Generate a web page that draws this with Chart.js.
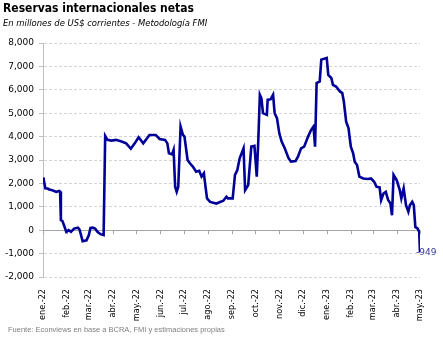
<!DOCTYPE html>
<html>
<head>
<meta charset="utf-8">
<script src="https://cdn.jsdelivr.net/npm/chart.js@4"></script>
<style>
  body { margin: 0; background: #fff; }
  #wrap { position: relative; width: 443px; height: 340px; overflow: hidden; }
  canvas { position: absolute; left: 0; top: 0; }
  .txt { position: absolute; white-space: nowrap; }
  #title { left: 3px; top: 1px; font: bold 12px "DejaVu Sans Condensed", "DejaVu Sans", sans-serif; color: #000; line-height: 14px; }
  #subtitle { left: 3px; top: 17px; font: italic 9.4px "DejaVu Sans Condensed", "DejaVu Sans", sans-serif; color: #000; line-height: 12px; }
  #source { left: 8px; top: 325px; font: 7.5px "Liberation Sans Narrow", "Liberation Sans", sans-serif; color: #7f7f7f; line-height: 10px; }
</style>
</head>
<body>
<div id="wrap">
  <canvas id="chart" width="443" height="340"></canvas>
  <div id="title" class="txt">Reservas internacionales netas</div>
  <div id="subtitle" class="txt">En millones de US$ corrientes - Metodología FMI</div>
  <div id="source" class="txt">Fuente: Econviews en base a BCRA, FMI y estimaciones propias</div>
</div>
<script>
// days since 1 Jan 2022
const days = [0, 1, 3, 6, 8, 12, 17, 21, 22, 23, 25, 27, 30, 33, 36, 40, 45, 47, 51, 56, 59, 61, 64, 67, 70, 74, 78,
    80, 83, 88, 94, 101, 107, 113, 118, 123, 129, 137, 145, 150, 157, 160, 162, 166, 168, 170, 172, 174, 177, 180, 182,
    186, 189, 193, 197, 201, 204, 207, 208, 211, 215, 223, 232, 236, 238, 244, 247, 250, 253, 258, 260, 264, 268, 272,
    275, 277, 279, 281, 283, 288, 289, 293, 296, 298, 301, 304, 307, 311, 316, 319, 325, 328, 332, 336, 341, 345, 348,
    350, 352, 356, 358, 365, 367, 371, 373, 377, 382, 385, 387, 390, 393, 396, 399, 401, 404, 407, 412, 418, 422, 426,
    429, 433, 435, 438, 441, 444, 447, 449, 451, 455, 459, 461, 464, 467, 470, 472, 475, 477, 479, 482, 484, 485];
// millones de US$
const reservas = [2250, 2150, 1790, 1780, 1740, 1710, 1640, 1680, 1650, 430, 390, 210, -70, 0, -70, 70, 110, 30, -470, -430, -210, 100, 110, 70, -70, -170, -210,
    4030, 3860, 3830, 3860, 3790, 3710, 3480, 3710, 3970, 3710, 4070, 4070, 3900, 3860, 3710, 3290, 3240, 3430, 1860, 1640, 1860, 4430, 4070, 4000,
    3000, 2860, 2710, 2500, 2540, 2290, 2430, 2140, 1360, 1210, 1140, 1260, 1430, 1360, 1360, 2360, 2570, 3070, 3500, 1710, 1930, 3570, 3600,
    2290, 3860, 5790, 5640, 5000, 4930, 5570, 5600, 5790, 5000, 4790, 4140, 3790, 3500, 3070, 2930, 2960, 3140, 3500, 3570, 4000, 4290, 4430,
    3570, 6290, 6360, 7290, 7360, 6640, 6500, 6210, 6140, 5930, 5860, 5500, 4640, 4360, 3570, 3290, 2930, 2790, 2290, 2210, 2190, 2210, 2070,
    1860, 1830, 1290, 1570, 1640, 1290, 1140, 640, 2360, 2140, 1710, 1360, 1790, 1070, 790, 1070, 1210, 1070, 140, 70, -70, -949];

const monthStarts = [0, 31, 59, 90, 120, 151, 181, 212, 243, 273, 304, 334, 365, 396, 424, 455, 485];
const monthLabels = ['ene.-22', 'feb.-22', 'mar.-22', 'abr.-22', 'may.-22', 'jun.-22', 'jul.-22', 'ago.-22', 'sep.-22',
    'oct.-22', 'nov.-22', 'dic.-22', 'ene.-23', 'feb.-23', 'mar.-23', 'abr.-23', 'may.-23'];

const points = days.map((d, i) => ({ x: d, y: reservas[i] }));

// zero axis line with month ticks, plus the end label
const zeroAxis = {
    id: 'zeroAxis',
    beforeDatasetsDraw(chart) {
        const ctx = chart.ctx;
        const xs = chart.scales.x;
        const y0 = chart.scales.y.getPixelForValue(0);
        ctx.save();
        ctx.strokeStyle = '#a6a6a6';
        ctx.lineWidth = 1;
        ctx.beginPath();
        monthStarts.forEach(m => {
            const px = Math.round(xs.getPixelForValue(m)) + 0.5;
            ctx.moveTo(px, y0);
            ctx.lineTo(px, y0 + 4);
        });
        ctx.stroke();

        // value label for the last point (drawn under the line, the minus sits behind it)
        const meta = chart.getDatasetMeta(0);
        const last = meta.data[meta.data.length - 1];
        const v = reservas[reservas.length - 1];
        ctx.fillStyle = '#3a3aa0';
        ctx.font = '9px "DejaVu Sans", sans-serif';
        ctx.textBaseline = 'middle';
        ctx.textAlign = 'left';
        ctx.fillText(v.toLocaleString('en-US'), last.x - 4, last.y);
        ctx.restore();
    }
};

const ctx = document.getElementById('chart').getContext('2d');
new Chart(ctx, {
    type: 'line',
    data: {
        datasets: [{
            data: points,
            borderColor: '#000099',
            borderWidth: 2.6,
            pointRadius: 0,
            tension: 0,
            fill: false
        }]
    },
    options: {
        responsive: false,
        animation: false,
        events: [],
        layout: { padding: { left: 0, top: 43, right: 23, bottom: 0 } },
        plugins: {
            legend: { display: false },
            tooltip: { enabled: false }
        },
        scales: {
            x: {
                type: 'linear',
                min: 0,
                max: 485,
                afterBuildTicks(scale) {
                    scale.ticks = monthStarts.map(m => ({ value: m }));
                },
                afterFit(scale) { scale.height = 63; },
                grid: { display: false },
                border: { display: false },
                ticks: {
                    autoSkip: false,
                    minRotation: 90,
                    maxRotation: 90,
                    padding: 4,
                    color: '#000',
                    font: { family: '"DejaVu Sans Condensed", "DejaVu Sans", sans-serif', size: 9 },
                    callback: (val, i) => monthLabels[i]
                }
            },
            y: {
                min: -2000,
                max: 8000,
                afterFit(scale) { scale.width = 43; },
                ticks: {
                    stepSize: 1000,
                    padding: 5,
                    color: '#000',
                    font: { family: '"DejaVu Sans", sans-serif', size: 9 },
                    callback: v => v.toLocaleString('en-US')
                },
                grid: {
                    color: c => c.tick && c.tick.value === 0 ? '#a6a6a6' : '#d4d4d4',
                    tickLength: 4,
                    tickColor: '#bfbfbf'
                },
                border: {
                    display: true,
                    color: '#bfbfbf',
                    width: 1,
                    dash: c => c.tick && c.tick.value === 0 ? [] : [3, 2]
                }
            }
        }
    },
    plugins: [zeroAxis]
});
</script>
</body>
</html>
